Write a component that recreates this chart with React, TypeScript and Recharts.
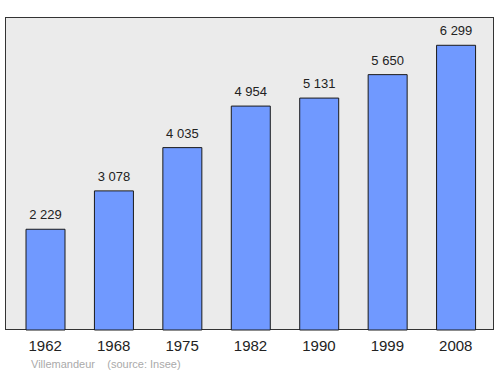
import { BarChart, Bar, XAxis, YAxis, LabelList } from "recharts";

const years = ["1962", "1968", "1975", "1982", "1990", "1999", "2008"];
const population = [2229, 3078, 4035, 4954, 5131, 5650, 6299];

const rows = years.map((year, i) => ({ year, population: population[i] }));

// "6299" -> "6 299" (espace insécable, sinon le libellé passe à la ligne)
const withSpace = (v: unknown) => String(v).replace(/\B(?=(\d{3})+(?!\d))/g, "\u00A0");

const FONT = "'Liberation Sans', Arial, sans-serif";

export default function App() {
  return (
    <div style={{ position: "absolute", left: 0, top: 0, width: 500, height: 374, background: "#fff", fontFamily: FONT }}>
      <div
        style={{
          position: "absolute",
          left: 5,
          top: 17,
          width: 489,
          height: 313,
          boxSizing: "border-box",
          background: "#ebebeb",
          border: "1px solid #333",
        }}
      />
      <div style={{ position: "absolute", left: 0, top: 0 }}>
        <BarChart width={500} height={374} data={rows} margin={{ top: 17, right: 10, bottom: 14, left: 11 }}>
          <YAxis hide domain={[0, 6925]} />
          <XAxis
            dataKey="year"
            axisLine={false}
            tickLine={false}
            tickSize={0}
            tickMargin={10}
            height={30}
            interval={0}
            tick={{ fontSize: 15, fill: "#222", fontFamily: FONT }}
          />
          <Bar dataKey="population" fill="#7099ff" stroke="#1a1a1a" strokeWidth={1} barSize={39} isAnimationActive={false}>
            <LabelList
              dataKey="population"
              position="top"
              offset={10}
              formatter={withSpace}
              style={{ fontSize: 13, fill: "#222", fontFamily: FONT }}
            />
          </Bar>
        </BarChart>
      </div>
      <div style={{ position: "absolute", left: 31, top: 358, fontSize: 11, color: "#aaa", whiteSpace: "pre" }}>
        {"Villemandeur    (source: Insee)"}
      </div>
    </div>
  );
}
